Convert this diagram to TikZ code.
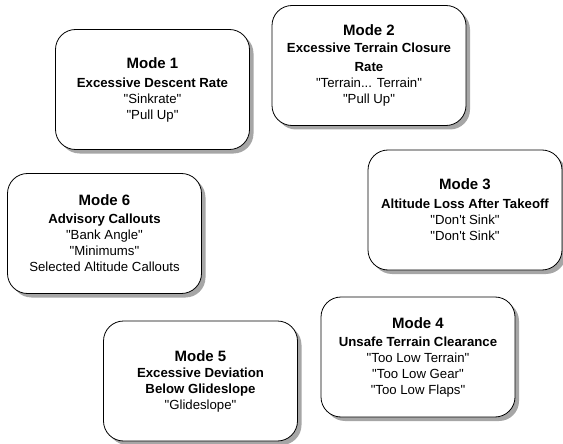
\documentclass[tikz,border=0pt]{standalone}
\usepackage{fontspec}
\setmainfont{Liberation Sans}
\usetikzlibrary{shadows}
\newcommand{\mtitle}[1]{{\fontsize{15}{18}\selectfont\bfseries #1}}
\newcommand{\msub}[1]{{\bfseries #1}}
\newcommand{\apos}{\textquotesingle}
\newcommand{\qt}[1]{\textquotedbl #1\textquotedbl}
\tikzset{
  modebox/.style={draw=black, line width=0.8pt, fill=white, rounded corners=20pt,
    minimum width=194pt, minimum height=120pt, align=center, inner sep=2pt,
    font=\fontsize{13.2}{16}\selectfont,
    drop shadow={shadow xshift=4pt, shadow yshift=-4pt, fill=black!35, opacity=1}}
}
\begin{document}
\begin{tikzpicture}[x=1pt,y=-1pt]
\useasboundingbox (0,0) rectangle (563,444);
\node[modebox] (m1) at (152.5,89.5) {\mtitle{Mode 1}\\[3pt]\msub{Excessive Descent Rate}\\\qt{Sinkrate}\\\qt{Pull Up}};
\node[modebox] (m2) at (369,65.5) {\mtitle{Mode 2}\\[1pt]\msub{Excessive Terrain Closure}\\[3pt]\msub{Rate}\\\qt{Terrain... Terrain}\\\qt{Pull Up}};
\node[modebox] (m6) at (104.5,233.5) {\mtitle{Mode 6}\\[2pt]\msub{Advisory Callouts}\\\qt{Bank Angle}\\\qt{Minimums}\\Selected Altitude Callouts};
\node[modebox] (m3) at (465,210) {\mtitle{Mode 3}\\[3pt]\msub{Altitude Loss After Takeoff}\\\qt{Don\apos t Sink}\\\qt{Don\apos t Sink}};
\node[modebox] (m5) at (200.5,381) {\mtitle{Mode 5}\\\msub{Excessive Deviation}\\\msub{Below Glideslope}\\\qt{Glideslope}};
\node[modebox] (m4) at (418,357) {\mtitle{Mode 4}\\[2pt]\msub{Unsafe Terrain Clearance}\\\qt{Too Low Terrain}\\\qt{Too Low Gear}\\\qt{Too Low Flaps}};
\end{tikzpicture}
\end{document}
